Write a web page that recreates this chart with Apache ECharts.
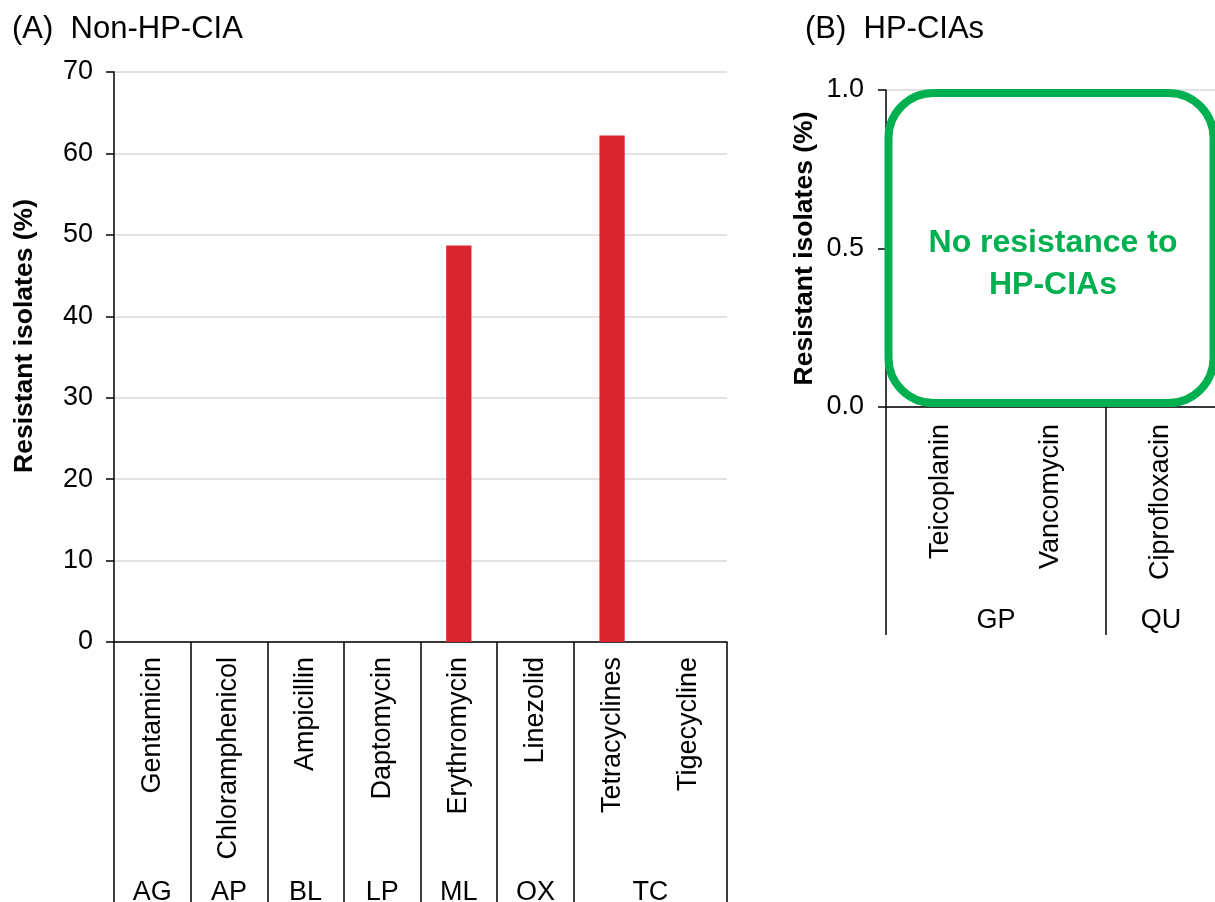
<!DOCTYPE html>
<html>
<head>
<meta charset="utf-8">
<script src="https://cdn.jsdelivr.net/npm/echarts@6/dist/echarts.min.js"></script>
<style>
html,body{margin:0;padding:0;background:#fff;}
#c{width:1215px;height:902px;}
</style>
</head>
<body>
<div id="c"></div>
<script>
// ---- data ----
const nonCategories = ['Gentamicin','Chloramphenicol','Ampicillin','Daptomycin','Erythromycin','Linezolid','Tetracyclines','Tigecycline'];
const nonGroups = ['AG','AP','BL','LP','ML','OX','TC','TC'];
const nonValues = [0,0,0,0,48.7,0,62.2,0];
const hpCategories = ['Teicoplanin','Vancomycin','Ciprofloxacin'];
const hpGroups = ['GP','GP','QU'];
const hpValues = [0,0,0];
const panelTitles = ['(A)  Non-HP-CIA','(B)  HP-CIAs'];
const yName = 'Resistant isolates (%)';
const noteText = 'No resistance to\nHP-CIAs';

// ---- helpers ----
function groupSpans(groups){
  const spans=[]; let start=0;
  for(let i=1;i<=groups.length;i++){
    if(i===groups.length || groups[i]!==groups[start]){
      spans.push({name:groups[start],start:start,end:i}); start=i;
    }
  }
  return spans;
}
const nonSpans = groupSpans(nonGroups);
const hpSpans = groupSpans(hpGroups);
function bounds(sp){ return [0].concat(sp.map(s=>s.end)); }
function centers(sp){ return sp.map(s=>(s.start+s.end)/2); }
function nameAt(sp,v){ const s=sp.find(s=>Math.abs((s.start+s.end)/2-v)<1e-6); return s?s.name:''; }

const FONT='"Liberation Sans", Arial, sans-serif';
const BLACK='#000';
const GA={left:114,top:72,width:613,height:570};
const GB={left:886,top:90,width:330,height:317};
const GREEN='#00B050';
const FS=27;

const chart = echarts.init(document.getElementById('c'),null,{renderer:'canvas'});
const option = {
  backgroundColor:'#fff',
  animation:false,
  textStyle:{fontFamily:FONT},
  title:[
    {text:panelTitles[0],left:7,top:9,textStyle:{fontFamily:FONT,fontSize:31,fontWeight:'normal',color:BLACK}},
    {text:panelTitles[1],left:800,top:9,textStyle:{fontFamily:FONT,fontSize:31,fontWeight:'normal',color:BLACK}}
  ],
  grid:[
    Object.assign({containLabel:false,outerBoundsMode:'none'},GA),
    Object.assign({containLabel:false,outerBoundsMode:'none'},GB)
  ],
  xAxis:[
    {type:'category',gridIndex:0,data:nonCategories,
      axisLine:{show:true,lineStyle:{color:BLACK,width:1.5}},
      axisTick:{show:false},
      axisLabel:{rotate:90,margin:15,fontSize:FS,color:BLACK,fontFamily:FONT,interval:0}},
    {type:'value',gridIndex:0,min:0,max:nonCategories.length,position:'bottom',
      axisLine:{show:false},splitLine:{show:false},
      axisTick:{show:true,inside:false,length:262,customValues:bounds(nonSpans),lineStyle:{color:BLACK,width:1.5}},
      axisLabel:{show:true,customValues:centers(nonSpans),margin:237,fontSize:FS,color:BLACK,fontFamily:FONT,
        formatter:v=>nameAt(nonSpans,v)}},
    {type:'category',gridIndex:1,data:hpCategories,
      axisLine:{show:true,lineStyle:{color:BLACK,width:1.5}},
      axisTick:{show:false},
      axisLabel:{rotate:90,margin:17,fontSize:FS,color:BLACK,fontFamily:FONT,interval:0}},
    {type:'value',gridIndex:1,min:0,max:hpCategories.length,position:'bottom',
      axisLine:{show:false},splitLine:{show:false},
      axisTick:{show:true,inside:false,length:228,customValues:bounds(hpSpans),lineStyle:{color:BLACK,width:1.5}},
      axisLabel:{show:true,customValues:centers(hpSpans),margin:200,fontSize:FS,color:BLACK,fontFamily:FONT,
        formatter:v=>nameAt(hpSpans,v)}}
  ],
  yAxis:[
    {type:'value',gridIndex:0,min:0,max:70,interval:10,
      name:yName,nameLocation:'middle',nameRotate:90,nameGap:76,
      nameTextStyle:{fontFamily:FONT,fontSize:26.5,fontWeight:'bold',color:BLACK,padding:[0,0,0,42]},
      axisLine:{show:true,lineStyle:{color:BLACK,width:1.5}},
      axisTick:{show:true,inside:false,length:8,lineStyle:{color:BLACK,width:1.5}},
      axisLabel:{margin:21,fontSize:FS,color:BLACK,fontFamily:FONT},
      splitLine:{show:true,lineStyle:{color:'#d9d9d9',width:1.5}}},
    {type:'value',gridIndex:1,min:0,max:1,interval:0.5,
      name:yName,nameLocation:'middle',nameRotate:90,nameGap:68,
      nameTextStyle:{fontFamily:FONT,fontSize:26.5,fontWeight:'bold',color:BLACK},
      axisLine:{show:true,lineStyle:{color:BLACK,width:1.5}},
      axisTick:{show:true,inside:false,length:8,lineStyle:{color:BLACK,width:1.5}},
      axisLabel:{margin:22,fontSize:FS,color:BLACK,fontFamily:FONT,formatter:v=>v.toFixed(1)},
      splitLine:{show:true,lineStyle:{color:'#d9d9d9',width:1.5}}}
  ],
  series:[
    {type:'bar',xAxisIndex:0,yAxisIndex:0,data:nonValues,barWidth:'33%',
      itemStyle:{color:'#DA252F'}},
    {type:'bar',xAxisIndex:2,yAxisIndex:1,data:hpValues,barWidth:'33%',
      itemStyle:{color:'#DA252F'}}
  ],
  graphic:[
    {type:'rect',z:5,shape:{x:GB.left+2.5,y:GB.top+3,width:GB.width-5,height:GB.height-7,r:45},
      style:{fill:'#fff',stroke:GREEN,lineWidth:8}},
    {type:'text',z:6,x:GB.left+167,y:GB.top+174,
      style:{text:noteText,fill:GREEN,font:'bold 32px '+FONT,align:'center',verticalAlign:'middle',lineHeight:42}}
  ]
};
chart.setOption(option);
</script>
</body>
</html>
